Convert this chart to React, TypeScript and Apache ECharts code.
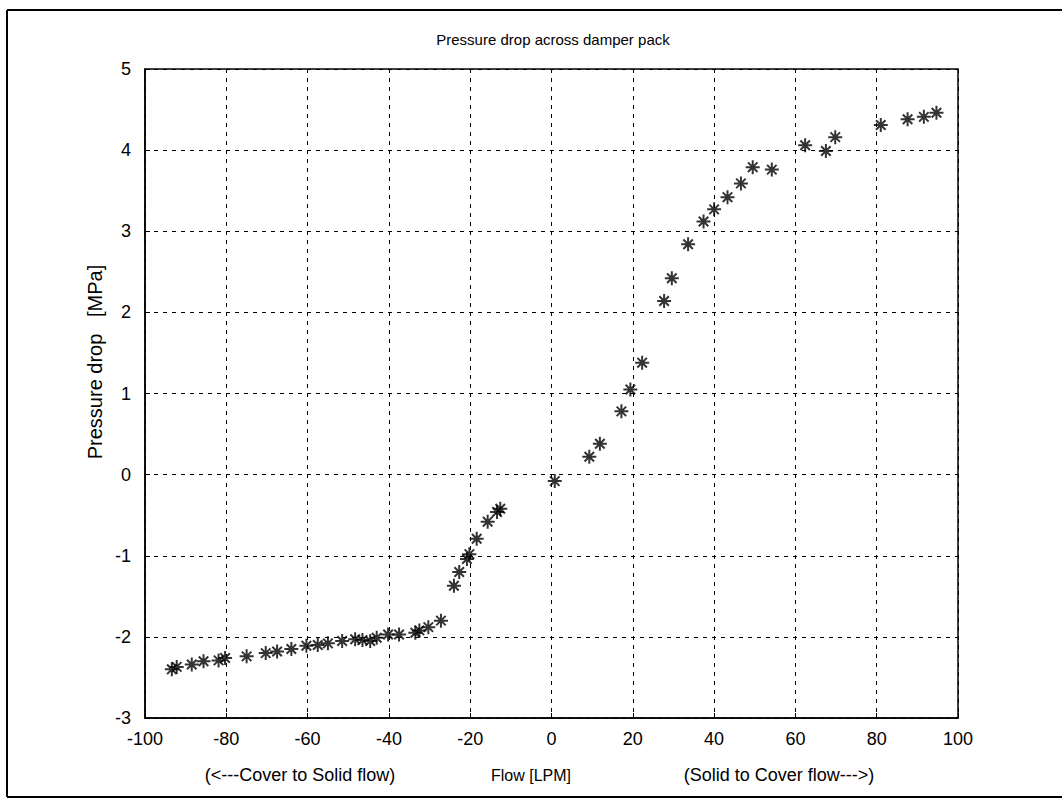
import React, { useEffect, useRef } from "react";
import * as echarts from "echarts";

const flow: number[] = [
  -93.4, -92.2, -88.5, -85.6, -81.9, -80.3, -75.0, -70.3, -67.5, -64.0, -60.3, -57.5,
  -55.0, -51.5, -48.3, -46.5, -44.6, -43.0, -40.2, -37.5, -33.5, -32.5, -30.3, -27.2,
  -24.0, -22.7, -20.8, -20.2, -18.4, -15.7, -13.4, -12.6,
  0.8, 9.3, 11.9, 17.2, 19.4, 22.3, 27.7, 29.6, 33.6, 37.4, 40.0, 43.3, 46.6, 49.5,
  54.2, 62.4, 67.5, 69.8, 81.0, 87.6, 91.6, 94.7,
];
const pressure: number[] = [
  -2.40, -2.37, -2.34, -2.30, -2.29, -2.26, -2.24, -2.20, -2.18, -2.15, -2.11, -2.10,
  -2.08, -2.05, -2.03, -2.04, -2.05, -2.01, -1.97, -1.97, -1.95, -1.92, -1.88, -1.80,
  -1.37, -1.20, -1.04, -0.98, -0.79, -0.58, -0.46, -0.42,
  -0.08, 0.22, 0.38, 0.78, 1.05, 1.38, 2.14, 2.42, 2.84, 3.12, 3.27, 3.42, 3.59, 3.79,
  3.76, 4.06, 3.99, 4.16, 4.31, 4.38, 4.41, 4.46,
];

const titleText = "Pressure drop across damper pack";
const yName = "Pressure drop   [MPa]";
const xNotes = ["(<---Cover to Solid flow)", "Flow [LPM]", "(Solid to Cover flow--->)"];

const STAR = "path://M0,5L10,5M5,0L5,10M1.6,1.6L8.4,8.4M8.4,1.6L1.6,8.4";
const FONT = "'Liberation Sans', Arial, sans-serif";

export default function App() {
  const ref = useRef<HTMLDivElement>(null);
  useEffect(() => {
    if (!ref.current) return;
    const chart = echarts.init(ref.current, undefined, { renderer: "svg" });
    const data = flow.map((f, i) => [f, pressure[i]]);
    const gridLine = { show: true, lineStyle: { color: "#000", width: 1, type: [4, 5] as any } };
    const frame = { fill: "none", stroke: "#000", lineWidth: 2 };
    chart.setOption({
      animation: false,
      backgroundColor: "#fff",
      textStyle: { fontFamily: FONT },
      grid: {
        left: 145,
        right: 104,
        top: 69,
        bottom: 92,
        show: true,
        borderColor: "#000",
        borderWidth: 1.5,
        backgroundColor: "transparent",
      },
      xAxis: {
        type: "value",
        min: -100,
        max: 100,
        interval: 20,
        axisLine: { show: true, onZero: false, lineStyle: { color: "#000", width: 1.5 } },
        axisTick: { show: true, inside: true, length: 5, lineStyle: { color: "#000" } },
        axisLabel: { color: "#000", fontSize: 18, margin: 12, fontFamily: FONT },
        splitLine: gridLine,
      },
      yAxis: {
        type: "value",
        min: -3,
        max: 5,
        interval: 1,
        axisLine: { show: true, onZero: false, lineStyle: { color: "#000", width: 1.5 } },
        axisTick: { show: true, inside: true, length: 5, lineStyle: { color: "#000" } },
        axisLabel: { color: "#000", fontSize: 18, margin: 14, fontFamily: FONT },
        splitLine: gridLine,
      },
      series: [
        {
          type: "scatter",
          data,
          symbol: STAR,
          symbolSize: 14,
          itemStyle: { color: "transparent", borderColor: "#000", borderWidth: 2 },
        },
      ],
      graphic: [
        { type: "line", shape: { x1: 7, y1: 10, x2: 1062, y2: 10 }, style: frame, silent: true },
        { type: "line", shape: { x1: 7, y1: 10, x2: 7, y2: 797 }, style: frame, silent: true },
        { type: "line", shape: { x1: 7, y1: 797, x2: 1062, y2: 797 }, style: frame, silent: true },
        {
          type: "text",
          x: 553,
          y: 39,
          style: {
            text: titleText,
            fill: "#000",
            font: `15px ${FONT}`,
            textAlign: "center",
            textVerticalAlign: "middle",
          },
        },
        {
          type: "text",
          x: 95,
          y: 362,
          rotation: Math.PI / 2,
          style: {
            text: yName,
            fill: "#000",
            font: `20px ${FONT}`,
            textAlign: "center",
            textVerticalAlign: "middle",
          },
        },
        {
          type: "text",
          x: 300,
          y: 775,
          style: { text: xNotes[0], fill: "#000", font: `18px ${FONT}`, textAlign: "center", textVerticalAlign: "middle" },
        },
        {
          type: "text",
          x: 531,
          y: 775,
          style: { text: xNotes[1], fill: "#000", font: `16px ${FONT}`, textAlign: "center", textVerticalAlign: "middle" },
        },
        {
          type: "text",
          x: 779,
          y: 775,
          style: { text: xNotes[2], fill: "#000", font: `18px ${FONT}`, textAlign: "center", textVerticalAlign: "middle" },
        },
      ],
    });
    return () => chart.dispose();
  }, []);
  return (
    <div
      ref={ref}
      style={{ position: "fixed", left: 0, top: 0, width: 1062, height: 810, background: "#fff" }}
    />
  );
}
